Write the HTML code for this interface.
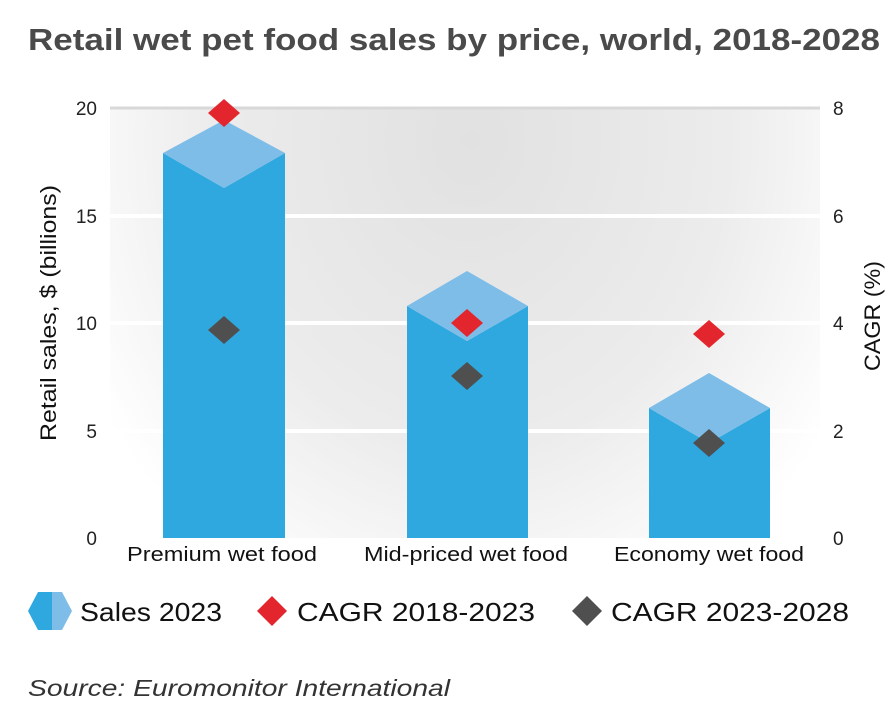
<!DOCTYPE html>
<html><head><meta charset="utf-8"><style>
body{margin:0;background:#fff;width:895px;height:710px;overflow:hidden}
text{font-family:"Liberation Sans",sans-serif}
</style></head><body>
<svg width="895" height="710" viewBox="0 0 895 710">
<defs>
<radialGradient id="bg" cx="470" cy="140" r="430" gradientUnits="userSpaceOnUse" gradientTransform="translate(470 140) scale(1 1.2) translate(-470 -140)">
<stop offset="0" stop-color="#e1e1e1"/><stop offset="0.6" stop-color="#ececec"/><stop offset="1" stop-color="#ffffff"/>
</radialGradient>
</defs>
<text x="28" y="50" font-size="31" font-weight="bold" fill="#4a4a4a" textLength="852" lengthAdjust="spacingAndGlyphs">Retail wet pet food sales by price, world, 2018-2028</text>
<rect x="110" y="108" width="710" height="430" fill="url(#bg)"/>
<g stroke="#fff" stroke-width="4">
<line x1="110" y1="108" x2="820" y2="108" stroke="#d8d8d8" stroke-width="3"/>
<line x1="110" y1="216" x2="820" y2="216"/>
<line x1="110" y1="323" x2="820" y2="323"/>
<line x1="110" y1="431" x2="820" y2="431"/>
</g>
<g font-size="19" fill="#222">
<text x="97" y="115" text-anchor="end">20</text>
<text x="97" y="223" text-anchor="end">15</text>
<text x="97" y="330" text-anchor="end">10</text>
<text x="97" y="438" text-anchor="end">5</text>
<text x="97" y="545" text-anchor="end">0</text>
<text x="833" y="115">8</text>
<text x="833" y="223">6</text>
<text x="833" y="330">4</text>
<text x="833" y="438">2</text>
<text x="833" y="545">0</text>
</g>
<text transform="translate(56 313) rotate(-90)" font-size="22" text-anchor="middle" fill="#111" textLength="256" lengthAdjust="spacingAndGlyphs">Retail sales, $ (billions)</text>
<text transform="translate(880 316) rotate(-90)" font-size="22" text-anchor="middle" fill="#111" textLength="110" lengthAdjust="spacingAndGlyphs">CAGR (%)</text>
<polygon points="163,153 224,188 285,153 285,538 163,538" fill="#2fa8df"/>
<polygon points="163,153 224,120 285,153 224,188" fill="#7ebde8"/>
<polygon points="407,306 467,341 528,306 528,538 407,538" fill="#2fa8df"/>
<polygon points="407,306 467,271 528,306 467,341" fill="#7ebde8"/>
<polygon points="649,408 709,443 770,408 770,538 649,538" fill="#2fa8df"/>
<polygon points="649,408 709,373 770,408 709,443" fill="#7ebde8"/>
<g fill="#e3262d">
<polygon points="224,99 240,113 224,127 208,113"/>
<polygon points="467,309 483,323 467,337 451,323"/>
<polygon points="709,320 725,334 709,348 693,334"/>
</g>
<g fill="#4f4f4f">
<polygon points="224,316 240,330 224,344 208,330"/>
<polygon points="467,362 483,376 467,390 451,376"/>
<polygon points="709,429 725,443 709,457 693,443"/>
</g>
<g font-size="20" fill="#111" text-anchor="middle">
<text x="222" y="561" textLength="190" lengthAdjust="spacingAndGlyphs">Premium wet food</text>
<text x="466" y="561" textLength="204" lengthAdjust="spacingAndGlyphs">Mid-priced wet food</text>
<text x="709" y="561" textLength="190" lengthAdjust="spacingAndGlyphs">Economy wet food</text>
</g>
<polygon points="28,611 38,592 52,592 52,630 38,630" fill="#2fa8df"/>
<polygon points="52,592 62,592 72,611 62,630 52,630" fill="#7ebde8"/>
<text x="80" y="621" font-size="26" fill="#111" textLength="142" lengthAdjust="spacingAndGlyphs">Sales 2023</text>
<polygon points="272,596 287,611 272,626 257,611" fill="#e3262d"/>
<text x="297" y="621" font-size="26" fill="#111" textLength="238" lengthAdjust="spacingAndGlyphs">CAGR 2018-2023</text>
<polygon points="587,596 602,611 587,626 572,611" fill="#4f4f4f"/>
<text x="611" y="621" font-size="26" fill="#111" textLength="238" lengthAdjust="spacingAndGlyphs">CAGR 2023-2028</text>
<text x="28" y="696" font-size="23" font-style="italic" fill="#333" textLength="422" lengthAdjust="spacingAndGlyphs">Source: Euromonitor International</text>
</svg>
</body></html>
